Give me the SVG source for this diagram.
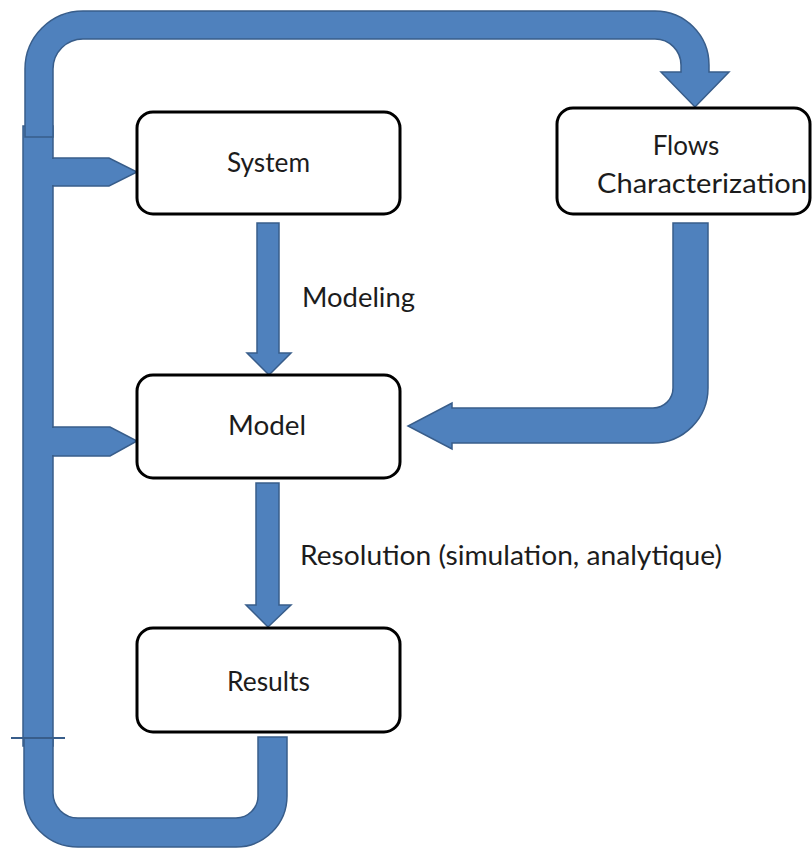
<svg xmlns="http://www.w3.org/2000/svg" width="812" height="848" viewBox="0 0 812 848">
<style>
.a{fill:#4f81bd;stroke:#385d8a;stroke-width:1.5;stroke-linejoin:miter}
.p{fill:#4f81bd;stroke:none}
.box{fill:#fff;stroke:#000;stroke-width:3}
.t{font-family:Lato,"Liberation Sans",sans-serif;font-size:26px;fill:#1c1c1c}
</style>
<rect x="0" y="0" width="812" height="848" fill="#fff"/>
<g id="connectors">
  <rect class="a" x="23" y="126" width="30" height="620"/>
  <path class="a" d="M24 738 L24 793 A54 54 0 0 0 78 847 L236 847 A51 51 0 0 0 287 796 L287 737 L258 737 L258 796 A22 22 0 0 1 236 818 L78 818 A25 25 0 0 1 53 793 L53 738 Z"/>
  <line x1="11" y1="738" x2="65" y2="738" stroke="#385d8a" stroke-width="2"/>
  <path class="a" d="M25 137 L25 69 A58 58 0 0 1 83 11 L655 11 A54 54 0 0 1 709 65 L709 72 L729 72 L695 107 L661 72 L681 72 L681 65 A26 26 0 0 0 655 39 L83 39 A30 30 0 0 0 53 69 L53 137 Z"/>
  <path class="a" d="M53 158 L109 158 L137 172 L109 186 L53 186 Z"/>
  <rect class="p" x="50" y="159" width="6" height="26"/>
  <path class="a" d="M53 427 L110 427 L137 441 L110 456 L53 456 Z"/>
  <rect class="p" x="50" y="428" width="6" height="27"/>
  <path class="a" d="M257 223 L279 223 L279 353 L291 353 L269 375 L247 353 L257 353 Z"/>
  <path class="a" d="M256 483 L279 483 L279 605 L291 605 L268 627 L246 605 L256 605 Z"/>
  <path class="a" d="M673 223 L708 223 L708 388 A55 55 0 0 1 653 443 L452 443 L452 449 L408 426 L452 403 L452 408 L653 408 A20 20 0 0 0 673 388 Z"/>
  <text class="t" x="302" y="307" textLength="113" lengthAdjust="spacingAndGlyphs">Modeling</text>
  <text class="t" x="300" y="565" textLength="422" lengthAdjust="spacingAndGlyphs">Resolution (simulation, analytique)</text>
</g>
<g id="system">
  <rect class="box" x="137" y="112" width="263" height="102" rx="16"/>
  <text class="t" x="227" y="172" textLength="83" lengthAdjust="spacingAndGlyphs">System</text>
</g>
<g id="flows">
  <rect class="box" x="557" y="108" width="253" height="106" rx="16"/>
  <text class="t" x="686" y="155" text-anchor="middle">Flows</text>
  <text class="t" x="597" y="193" textLength="210" lengthAdjust="spacingAndGlyphs">Characterization</text>
</g>
<g id="model">
  <rect class="box" x="137" y="375" width="263" height="103" rx="16"/>
  <text class="t" x="228" y="435" textLength="78" lengthAdjust="spacingAndGlyphs">Model</text>
</g>
<g id="results">
  <rect class="box" x="137" y="628" width="263" height="104" rx="16"/>
  <text class="t" x="227" y="691" textLength="83" lengthAdjust="spacingAndGlyphs">Results</text>
</g>
</svg>
